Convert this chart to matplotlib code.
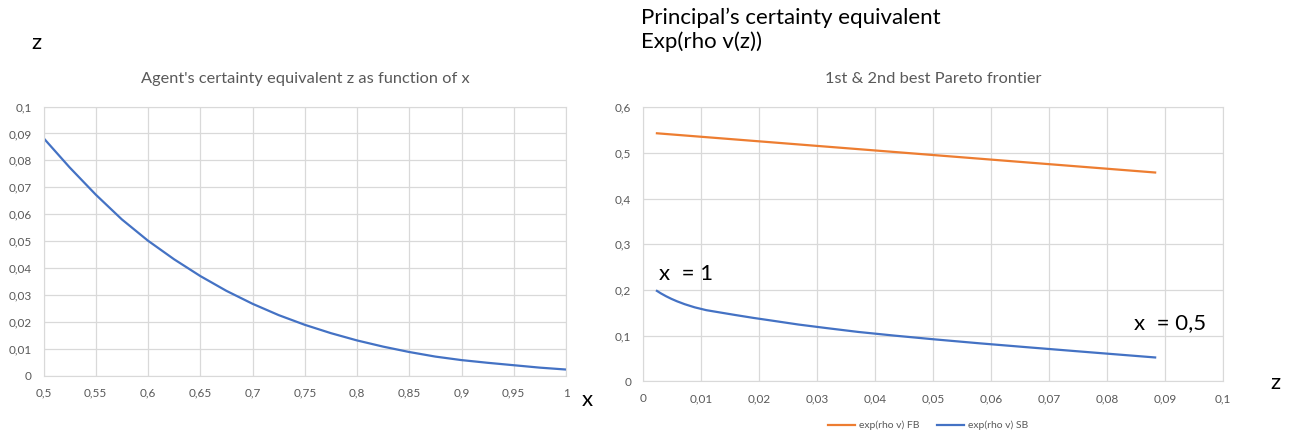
import matplotlib
matplotlib.use("Agg")
import matplotlib.pyplot as plt
from matplotlib.ticker import FuncFormatter

# x grid (left chart) and agent's certainty equivalent z
x_vals = [0.5, 0.525, 0.55, 0.575, 0.6, 0.625, 0.65, 0.675, 0.7, 0.725, 0.75,
          0.775, 0.8, 0.825, 0.85, 0.875, 0.9, 0.925, 0.95, 0.975, 1.0]
z_vals = [0.0883, 0.0774, 0.0673, 0.0581, 0.0502, 0.0433, 0.0371, 0.0316, 0.0268, 0.0226, 0.0190,
          0.0159, 0.0132, 0.0109, 0.0089, 0.0072, 0.0059, 0.0049, 0.0040, 0.0031, 0.0024]

# Pareto frontiers at the same z points
fb_vals = [0.4572, 0.4681, 0.4782, 0.4874, 0.4953, 0.5022, 0.5084, 0.5139, 0.5187, 0.5229, 0.5265,
           0.5296, 0.5323, 0.5346, 0.5366, 0.5383, 0.5396, 0.5406, 0.5415, 0.5424, 0.5431]
sb_vals = [0.0522, 0.0632, 0.0735, 0.0831, 0.0919, 0.1001, 0.1081, 0.1166, 0.1243, 0.1322, 0.1389,
           0.1452, 0.1509, 0.1558, 0.1620, 0.1688, 0.1750, 0.1805, 0.1861, 0.1924, 0.1980]

BLUE = "#4472C4"
ORANGE = "#ED7D31"
GRID = "#D9D9D9"
TXT = "#595959"
W, H = 1298, 438

plt.rcParams["font.family"] = ["Lato", "DejaVu Sans"]

comma = FuncFormatter(lambda v, p: ("%g" % round(v, 4)).replace(".", ","))


def style(ax):
    ax.grid(True, color=GRID, linewidth=0.9)
    ax.set_axisbelow(True)
    for s in ax.spines.values():
        s.set_color(GRID)
    ax.tick_params(length=0, labelsize=8.5, labelcolor=TXT, pad=8.5)
    ax.xaxis.set_major_formatter(comma)
    ax.yaxis.set_major_formatter(comma)


fig = plt.figure(figsize=(W / 100, H / 100), dpi=100)

# left chart: z as a function of x
ax1 = fig.add_axes([43.5 / W, 62 / H, 522.5 / W, 269.5 / H])
ax1.plot(x_vals, z_vals, color=BLUE, linewidth=1.6, solid_joinstyle="round")
ax1.set_xlim(0.5, 1.0)
ax1.set_ylim(0, 0.1)
ax1.set_xticks([0.5, 0.55, 0.6, 0.65, 0.7, 0.75, 0.8, 0.85, 0.9, 0.95, 1.0])
ax1.set_yticks([0, 0.01, 0.02, 0.03, 0.04, 0.05, 0.06, 0.07, 0.08, 0.09, 0.1])
style(ax1)
fig.text(305 / W, 1 - 79 / H, "Agent's certainty equivalent z as function of x",
         fontsize=11.8, color=TXT, ha="center", va="center")

# right chart: Pareto frontiers
ax2 = fig.add_axes([643 / W, 56.7 / H, 580 / W, 274 / H])
ax2.plot(z_vals, fb_vals, color=ORANGE, linewidth=1.6, solid_joinstyle="round",
         label="exp(rho v) FB")
ax2.plot(z_vals, sb_vals, color=BLUE, linewidth=1.6, solid_joinstyle="round",
         label="exp(rho v) SB")
ax2.set_xlim(0, 0.1)
ax2.set_ylim(0, 0.6)
ax2.set_xticks([0, 0.01, 0.02, 0.03, 0.04, 0.05, 0.06, 0.07, 0.08, 0.09, 0.1])
ax2.set_yticks([0, 0.1, 0.2, 0.3, 0.4, 0.5, 0.6])
style(ax2)
fig.text(933 / W, 1 - 79 / H, "1st & 2nd best Pareto frontier",
         fontsize=11.8, color=TXT, ha="center", va="center")
ax2.text(0.0028, 0.234, "x  = 1", fontsize=16, va="center", ha="left")
ax2.text(0.0847, 0.127, "x  = 0,5", fontsize=16, va="center", ha="left")
fig.legend(loc="center", bbox_to_anchor=(928 / W, 1 - 425.7 / H), ncol=2, frameon=False,
           fontsize=7.5, handlelength=2.6, handletextpad=0.4, labelcolor=TXT,
           columnspacing=1.7)

# loose axis labels around the charts
fig.text(36 / W, 1 - 43 / H, "z", fontsize=16, va="center", ha="center")
fig.text(587 / W, 1 - 400 / H, "x", fontsize=16, va="center", ha="center")
fig.text(1275 / W, 1 - 383 / H, "z", fontsize=16, va="center", ha="center")
fig.text(641 / W, 1 - 30 / H, "Principal\u2019s certainty equivalent\nExp(rho v(z))",
         fontsize=16, va="center", ha="left", linespacing=1.2)

fig.savefig("out.png", dpi=100)
plt.close(fig)
